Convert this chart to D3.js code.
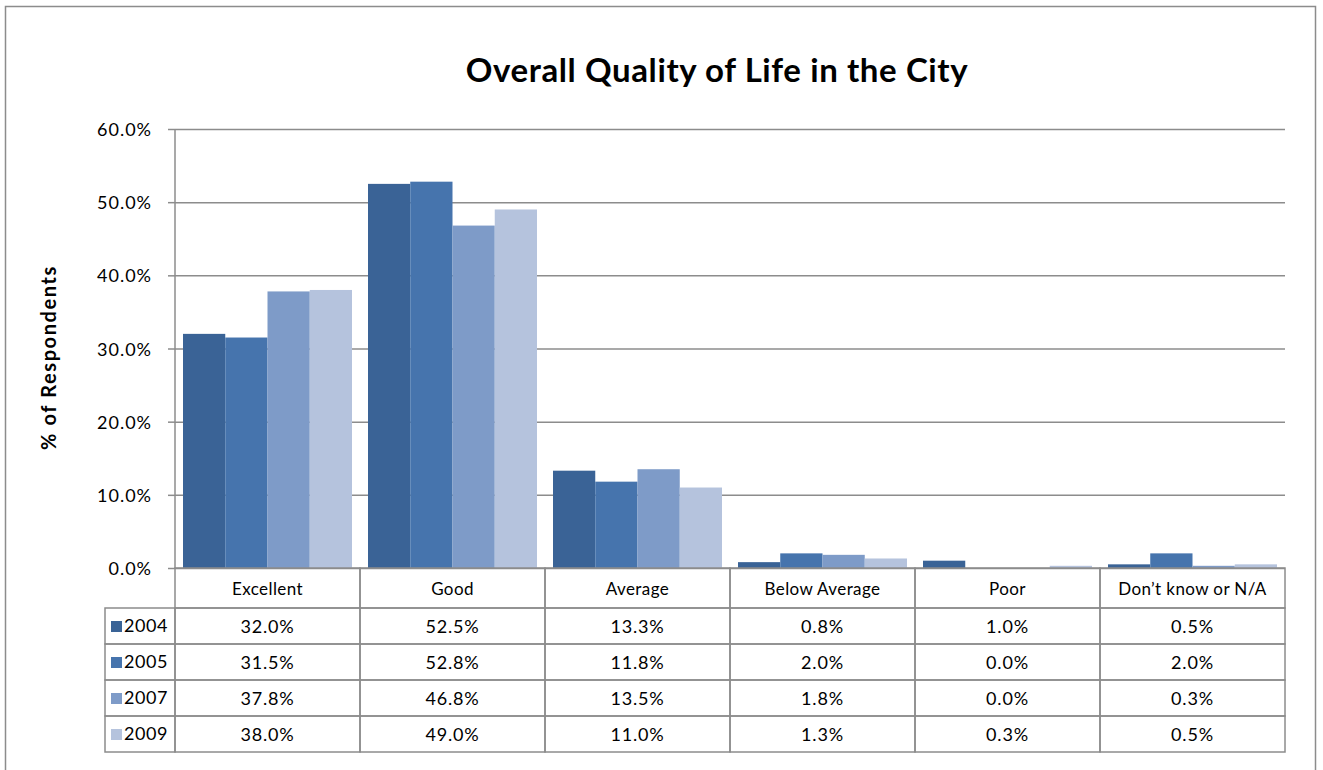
<!DOCTYPE html>
<html lang="en">
<head>
<meta charset="utf-8">
<title>Overall Quality of Life in the City</title>
<style>
body { margin: 0; background: #fff; font-family: Lato, "Open Sans", Arial, sans-serif; }
.grid line { stroke: #8c8c8c; stroke-width: 1.5; }
.grid path { display: none; }
.cell { fill: none; stroke: #8c8c8c; stroke-width: 1.5; }
text { fill: #000; }
</style>
</head>
<body>
<script src="https://d3js.org/d3.v7.min.js"></script>
<script>

var categories = ["Excellent", "Good", "Average", "Below Average", "Poor", "Don\u2019t know or N/A"];
var years = ["2004", "2005", "2007", "2009"];
var v2004 = [32.0, 52.5, 13.3, 0.8, 1.0, 0.5];
var v2005 = [31.5, 52.8, 11.8, 2.0, 0.0, 2.0];
var v2007 = [37.8, 46.8, 13.5, 1.8, 0.0, 0.3];
var v2009 = [38.0, 49.0, 11.0, 1.3, 0.3, 0.5];
var yTicks = [0, 10, 20, 30, 40, 50, 60];

var seriesValues = [v2004, v2005, v2007, v2009];
var colors = ["#3a6396", "#4674ad", "#7e9bc8", "#b5c3dd"];

var svg = d3.select("body").append("svg")
    .attr("width", 1323)
    .attr("height", 770);

// outer frame
svg.append("rect")
    .attr("x", 5.5).attr("y", 6.5)
    .attr("width", 1310).attr("height", 770)
    .attr("fill", "none")
    .attr("stroke", "#8c8c8c")
    .attr("stroke-width", 1.5);

var plotLeft = 175, plotRight = 1285, plotTop = 129, plotBottom = 568;

var x = d3.scaleBand().domain(categories).range([plotLeft, plotRight]).paddingInner(0).paddingOuter(0);
var y = d3.scaleLinear().domain([0, 60]).range([plotBottom, plotTop]);
var xs = d3.scaleBand().domain(years).range([8, x.bandwidth() - 8]).padding(0);

// title
svg.append("text")
    .attr("x", 717).attr("y", 82)
    .attr("text-anchor", "middle")
    .style("font-size", "33px")
    .style("font-weight", "bold")
    .style("letter-spacing", "0.6px")
    .text("Overall Quality of Life in the City");

// gridlines
svg.append("g")
    .attr("class", "grid")
    .attr("transform", "translate(" + plotLeft + ",0)")
    .call(d3.axisLeft(y).tickValues(yTicks).tickSize(-(plotRight - plotLeft)).tickFormat(""));

// small ticks left of axis
svg.append("g")
    .attr("class", "grid")
    .attr("transform", "translate(" + plotLeft + ",0)")
    .call(d3.axisLeft(y).tickValues(yTicks).tickSize(7).tickFormat(""));

// y tick labels
svg.selectAll(".ylab")
    .data(yTicks)
    .enter().append("text")
    .attr("class", "ylab")
    .attr("x", 152)
    .attr("y", function(d) { return y(d) + 7; })
    .attr("text-anchor", "end")
    .style("font-size", "18px")
    .style("letter-spacing", "1px")
    .text(function(d) { return d.toFixed(1) + "%"; });

// y axis title
svg.append("text")
    .attr("transform", "translate(56," + ((plotTop + plotBottom) / 2 + 9) + ") rotate(-90)")
    .attr("text-anchor", "middle")
    .style("font-size", "20px")
    .style("font-weight", "bold")
    .style("letter-spacing", "1.6px")
    .text("% of Respondents");

// bars
years.forEach(function(yr, i) {
    svg.append("g").selectAll("rect")
        .data(seriesValues[i])
        .enter().append("rect")
        .attr("x", function(d, j) { return x(categories[j]) + xs(yr); })
        .attr("width", xs.bandwidth())
        .attr("y", function(d) { return y(d); })
        .attr("height", function(d) { return plotBottom - y(d); })
        .attr("fill", colors[i]);
});

// vertical axis line
svg.append("line")
    .attr("x1", plotLeft).attr("x2", plotLeft)
    .attr("y1", plotTop).attr("y2", plotBottom)
    .attr("stroke", "#8c8c8c").attr("stroke-width", 1.5);

// data table
var tableLeft = 105;
var rowH = 36, headerH = 40;
var rowTops = years.map(function(d, i) { return plotBottom + headerH + i * rowH; });

// header cells
svg.append("g").selectAll("rect")
    .data(categories)
    .enter().append("rect")
    .attr("class", "cell")
    .attr("x", function(d) { return x(d); })
    .attr("y", plotBottom)
    .attr("width", x.bandwidth())
    .attr("height", headerH);

svg.append("g").selectAll("text")
    .data(categories)
    .enter().append("text")
    .attr("x", function(d) { return x(d) + x.bandwidth() / 2; })
    .attr("y", plotBottom + 27)
    .attr("text-anchor", "middle")
    .style("font-size", "17px")
    .style("letter-spacing", "0.4px")
    .text(function(d) { return d; });

years.forEach(function(yr, i) {
    var ry = rowTops[i];
    // legend cell
    svg.append("rect")
        .attr("class", "cell")
        .attr("x", tableLeft).attr("y", ry)
        .attr("width", plotLeft - tableLeft).attr("height", rowH);
    svg.append("rect")
        .attr("x", tableLeft + 6).attr("y", ry + 13)
        .attr("width", 11).attr("height", 11)
        .attr("fill", colors[i]);
    svg.append("text")
        .attr("x", tableLeft + 19).attr("y", ry + 24)
        .style("font-size", "18px")
        .style("letter-spacing", "0.6px")
        .text(yr);

    var g = svg.append("g");
    g.selectAll("rect")
        .data(seriesValues[i])
        .enter().append("rect")
        .attr("class", "cell")
        .attr("x", function(d, j) { return x(categories[j]); })
        .attr("y", ry)
        .attr("width", x.bandwidth())
        .attr("height", rowH);
    g.selectAll("text")
        .data(seriesValues[i])
        .enter().append("text")
        .attr("x", function(d, j) { return x(categories[j]) + x.bandwidth() / 2; })
        .attr("y", ry + 25)
        .attr("text-anchor", "middle")
        .style("font-size", "18px")
        .style("letter-spacing", "0.8px")
        .text(function(d) { return d.toFixed(1) + "%"; });
});

</script>
</body>
</html>
